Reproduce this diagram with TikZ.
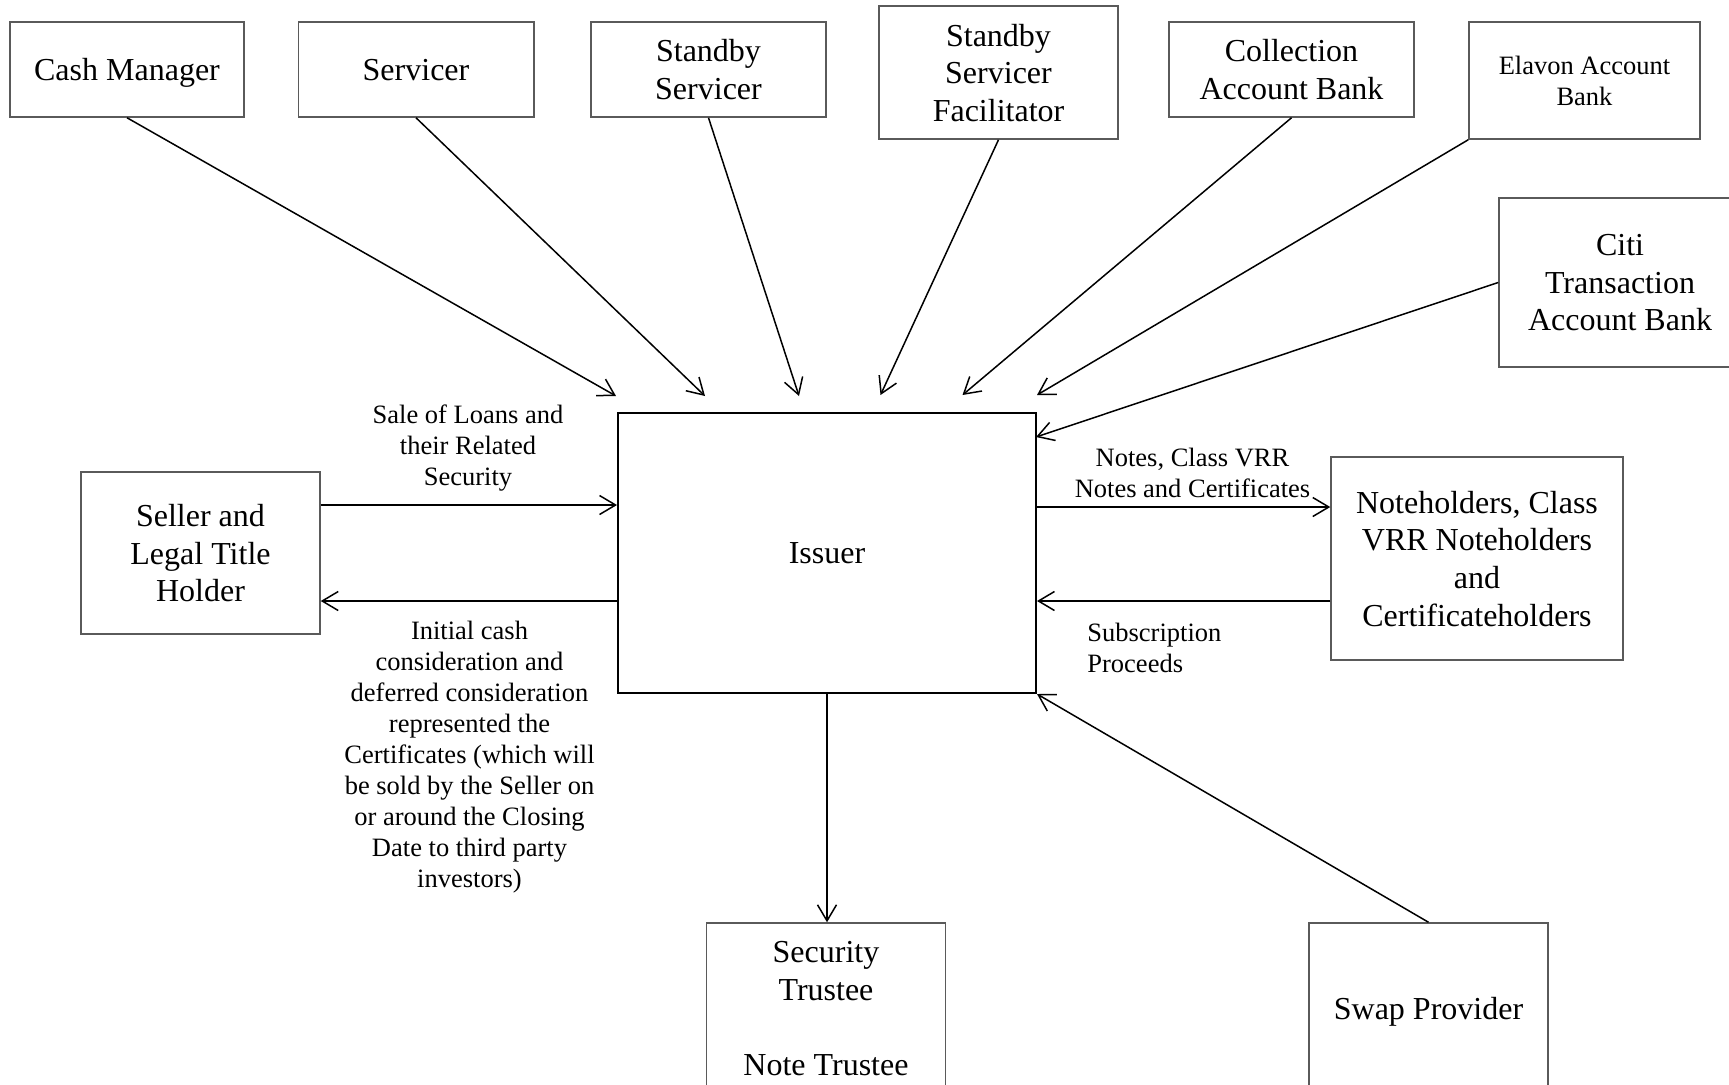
\documentclass[tikz,border=0pt]{standalone}
\usepackage{fontspec}
\setmainfont{Liberation Serif}
\usetikzlibrary{arrows.meta}
\definecolor{boxgray}{HTML}{5A5A5A}
\begin{document}
\begin{tikzpicture}[x=0.5pt,y=-0.5pt,
  box/.style={draw=boxgray, line width=0.75pt, align=center, inner sep=0pt, text depth=0pt,
    font=\fontsize{16}{18.8}\selectfont},
  smallbox/.style={box, font=\fontsize{13.25}{15.6}\selectfont},
  issuerbox/.style={draw=black, line width=1pt, align=center, inner sep=0pt, text depth=0pt,
    font=\fontsize{16}{18.8}\selectfont},
  lbl/.style={align=center, inner sep=0pt, font=\fontsize{13.25}{15.5}\selectfont},
  arr/.style={draw=black, line width=0.75pt, -{Straight Barb[length=8pt,width=9.5pt]}}
]
\useasboundingbox (0,0) rectangle (1729,1084);
\clip (0,0) rectangle (1729,1084);

% top boxes
\node[box, minimum width=117pt, minimum height=47.5pt] (cash) at (127,69.5) {Cash Manager};
\node[box, minimum width=117.75pt, minimum height=47.5pt] (serv) at (416,69.5) {Servicer};
\node[box, minimum width=117.5pt, minimum height=47.5pt] (sbs) at (708.5,69.5) {Standby\\Servicer};
\node[box, minimum width=119.5pt, minimum height=66.5pt] (ssf) at (998.5,72.5) {Standby\\Servicer\\Facilitator};
\node[box, minimum width=122.5pt, minimum height=47.5pt] (coll) at (1291.5,69.5) {Collection\\Account Bank};
\node[smallbox, minimum width=115.5pt, minimum height=58.5pt] (elavon) at (1584.5,80.5) {Elavon Account\\Bank};
\node[box, minimum width=121pt, minimum height=84.5pt] (citi) at (1620,282.5) {Citi\\Transaction\\Account Bank};

% middle
\node[issuerbox, minimum width=209pt, minimum height=140pt] (issuer) at (827,553) {Issuer};
\node[box, minimum width=119.5pt, minimum height=81pt] (seller) at (200.5,553) {Seller and\\Legal Title\\Holder};
\node[box, minimum width=146pt, minimum height=101.5pt] (noteh) at (1477,558.5) {Noteholders, Class\\VRR Noteholders\\and\\Certificateholders};

% bottom
\node[box, minimum width=119.5pt, minimum height=85.5pt] (sect) at (826,1008.5) {Security\\Trustee\\ \\Note Trustee};
\node[box, minimum width=119.5pt, minimum height=85.5pt] (swap) at (1428.5,1008.5) {Swap Provider};

% free arrow ends
\coordinate (e1) at (616,396);
\coordinate (e2) at (705,396);
\coordinate (e3) at (799,396);
\coordinate (e4) at (880.5,395);
\coordinate (e5) at (962.5,395);
\coordinate (e6) at (1037,395);
\coordinate (e7) at (1036,437);

\draw[arr] (cash.south) -- (e1);
\draw[arr] (serv.south) -- (e2);
\draw[arr] (sbs.south) -- (e3);
\draw[arr] (ssf.south) -- (e4);
\draw[arr] (coll.south) -- (e5);
\draw[arr] (elavon.south west) -- (e6);
\draw[arr] (citi.west) -- (e7);

% seller <-> issuer
\draw[arr] ([yshift=24pt]seller.east) -- ([yshift=24pt]seller.east -| issuer.west);
\draw[arr] ([yshift=-24pt]seller.east -| issuer.west) -- ([yshift=-24pt]seller.east);

% issuer <-> noteholders
\draw[arr] ([yshift=25.75pt]noteh.west -| issuer.east) -- ([yshift=25.75pt]noteh.west);
\draw[arr] ([yshift=-21.25pt]noteh.west) -- ([yshift=-21.25pt]noteh.west -| issuer.east);

% bottom arrows
\draw[arr] (issuer.south) -- (issuer.south |- sect.north);
\draw[arr] (swap.north) -- (issuer.south east);

% labels
\node[lbl] (lsale) at (468,448) {Sale of Loans and\\their Related\\Security};
\node[lbl] (linit) at (469.5,757) {Initial cash\\consideration and\\deferred consideration\\represented the\\Certificates (which will\\be sold by the Seller on\\or around the Closing\\Date to third party\\investors)};
\node[lbl] (lnotes) at (1192.5,472.5) {Notes, Class VRR\\Notes and Certificates};
\node[lbl, align=left, anchor=west] (lsubs) at (1087,647.5) {Subscription\\Proceeds};
\end{tikzpicture}
\end{document}
